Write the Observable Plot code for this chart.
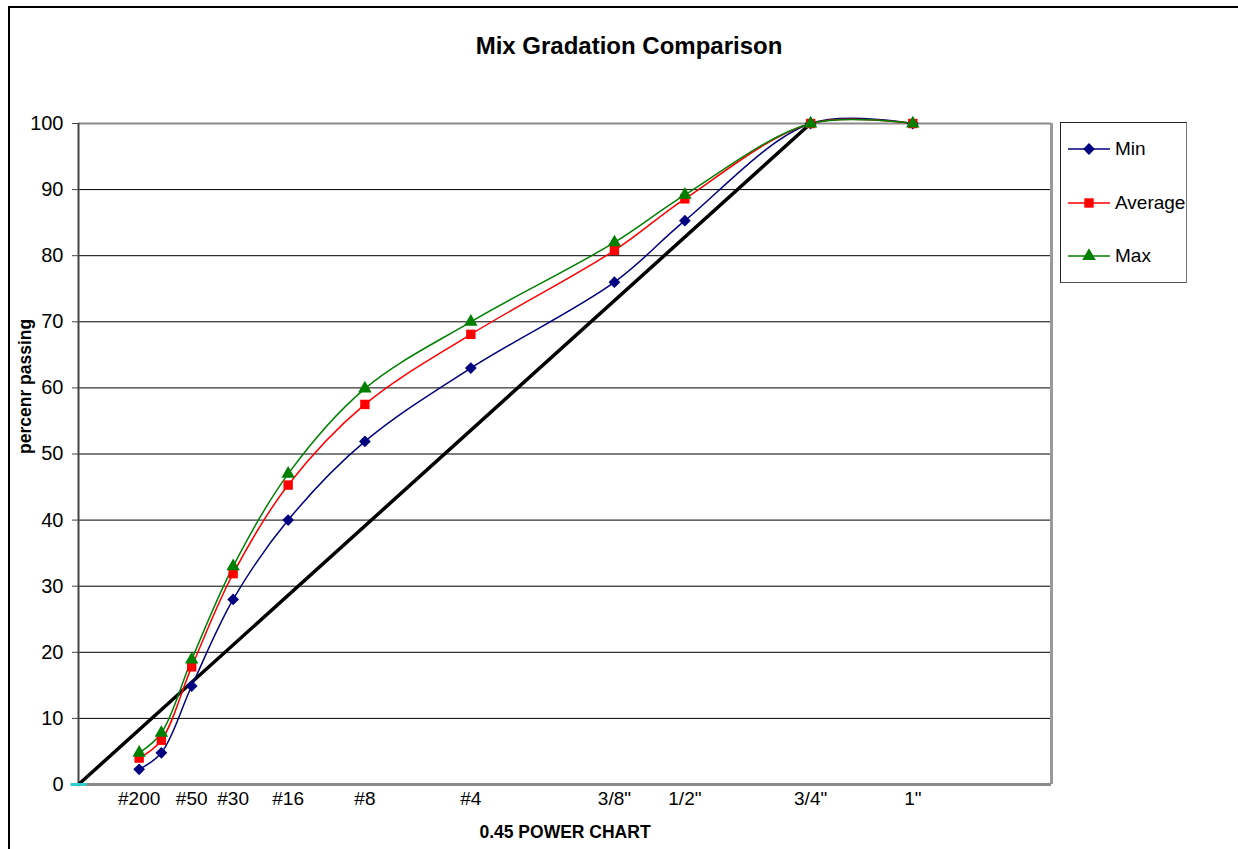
<!DOCTYPE html>
<html>
<head>
<meta charset="utf-8">
<script src="https://cdn.jsdelivr.net/npm/d3@7"></script>
<script src="https://cdn.jsdelivr.net/npm/@observablehq/plot@0.6"></script>
<style>
  html, body { margin: 0; padding: 0; background: #fff; overflow: hidden; }
  #wrap { position: relative; width: 1238px; height: 849px; font-family: "Liberation Sans", Arial, sans-serif; }
  #border { position: absolute; left: 8px; top: 6px; width: 1400px; height: 1000px; border-left: 2px solid #000; border-top: 2px solid #000; }
  #chart { position: absolute; left: 0; top: 0; }
  #legend { position: absolute; left: 1060px; top: 122px; width: 125px; height: 159px; border: 1.5px solid #222; border-right-color: #777; border-bottom-color: #555; background: #fff; }
  .lg { position: absolute; left: 6px; height: 24px; display: flex; align-items: center; font-size: 19px; color: #000; }
  .lg svg { margin-right: 4px; }
</style>
</head>
<body>
<div id="wrap">
  <div id="border"></div>
  <div id="chart"></div>
  <div id="legend"></div>
</div>
<script>
// ---- data ----
const sieveLabels = ["#200", "#100", "#50", "#30", "#16", "#8", "#4", "3/8\"", "1/2\"", "3/4\"", "1\""];
const sieveMM     = [0.075, 0.15, 0.3, 0.6, 1.18, 2.36, 4.75, 9.5, 12.5, 19, 25.4];
const minPass = [2.3, 4.8, 14.9, 28.0, 40.0, 51.9, 63.0, 76.0, 85.3, 100, 100];
const avgPass = [4.0, 6.7, 17.8, 31.9, 45.3, 57.5, 68.1, 80.8, 88.6, 100, 100];
const maxPass = [4.8, 7.8, 18.9, 33.0, 47.0, 59.9, 70.0, 82.0, 89.2, 100, 100];
const axisLabels = ["#200", "#50", "#30", "#16", "#8", "#4", "3/8\"", "1/2\"", "3/4\"", "1\""];
const maxDensityMM = [0, 19];
const maxDensityPass = [0, 100];
const originMM = [0];
const originPass = [0];
const yTicks = [0, 10, 20, 30, 40, 50, 60, 70, 80, 90, 100];
const gridLines = [10, 20, 30, 40, 50, 60, 70, 80, 90];
const xMax = 35.75;   // 0.45-power axis end (5.0 on the power scale)
const seriesNames = ["Min", "Average", "Max"];
const seriesColors = ["#000080", "#FF0000", "#008000"];
const seriesSymbols = ["diamond2", "square", "triangle"];

const seriesValues = [minPass, avgPass, maxPass];
const rows = [];
seriesNames.forEach((s, k) => sieveMM.forEach((mm, i) => rows.push({series: s, mm, pass: seriesValues[k][i], label: sieveLabels[i]})));
const lineRows = maxDensityMM.map((mm, i) => ({mm, pass: maxDensityPass[i]}));
const originRows = originMM.map((mm, i) => ({mm, pass: originPass[i]}));
const labelOf = new Map(sieveMM.map((mm, i) => [mm, sieveLabels[i]]));
const labeledMM = sieveMM.filter((mm, i) => axisLabels.includes(sieveLabels[i]));

const dash = { draw(ctx, size) { const w = Math.sqrt(size); ctx.moveTo(-w, 0); ctx.lineTo(w, 0); } };
const symR = {"diamond2": 5.3, "square": 5.3, "triangle": 5.0};

const font = "'Liberation Sans', Arial, sans-serif";
const chart = Plot.plot({
  width: 1238, height: 849,
  marginLeft: 78, marginRight: 187, marginTop: 123, marginBottom: 65,
  style: {fontFamily: font, fontSize: "20px", background: "transparent", color: "#000", overflow: "visible"},
  x: {type: "pow", exponent: 0.45, domain: [0, xMax]},
  y: {domain: [0, 100]},
  marks: [
    Plot.ruleY(gridLines, {stroke: "#000", strokeWidth: 1}),
    Plot.ruleY([100], {stroke: "#8a8a8a", strokeWidth: 2}),
    Plot.ruleX([xMax], {stroke: "#9a9a9a", strokeWidth: 3}),
    Plot.ruleY([0], {stroke: "#8a8a8a", strokeWidth: 3}),
    Plot.ruleX([0], {stroke: "#444", strokeWidth: 2}),
    Plot.axisY({ticks: yTicks, tickSize: 6, tickPadding: 9, fontSize: 20, stroke: "#444", label: null}),
    Plot.axisX({ticks: labeledMM, tickFormat: d => labelOf.get(d), tickSize: 0, tickPadding: 7, fontSize: 19, label: null}),
    Plot.line(lineRows, {x: "mm", y: "pass", stroke: "#000", strokeWidth: 3.5}),
    Plot.line(rows, {x: "mm", y: "pass", z: "series", stroke: d => seriesColors[seriesNames.indexOf(d.series)], strokeWidth: 1.5, curve: "catmull-rom"}),
    ...seriesNames.map((s, k) => Plot.dot(rows.filter(d => d.series === s), {
      x: "mm", y: "pass", symbol: () => seriesSymbols[k], fill: seriesColors[k], stroke: "none", r: symR[seriesSymbols[k]]
    })),
    Plot.dot(originRows, {x: "mm", y: "pass", symbol: () => dash, stroke: "#33CCCC", strokeWidth: 3, fill: "none", r: 4.5}),
    Plot.text(["Mix Gradation Comparison"], {frameAnchor: "top", lineAnchor: "middle", dy: -77, dx: 64, fontSize: 24, fontWeight: "bold"}),
    Plot.text(["0.45 POWER CHART"], {frameAnchor: "bottom", lineAnchor: "middle", dy: 48, dx: 0, fontSize: 17.5, fontWeight: "bold"}),
    Plot.text(["percenr passing"], {frameAnchor: "left", lineAnchor: "middle", dx: -53, dy: 0, rotate: -90, fontSize: 17.5, fontWeight: "bold"})
  ]
});
document.getElementById("chart").appendChild(chart);

// ---- legend ----
const legend = document.getElementById("legend");
const legendTops = [14, 68, 121];
seriesNames.forEach((s, k) => {
  const item = document.createElement("div");
  item.className = "lg";
  item.style.top = legendTops[k] + "px";
  const svg = d3.create("svg").attr("width", 44).attr("height", 24);
  svg.append("line").attr("x1", 1).attr("x2", 43).attr("y1", 12).attr("y2", 12).attr("stroke", seriesColors[k]).attr("stroke-width", 1.5);
  const symType = {"diamond2": d3.symbolDiamond2, "square": d3.symbolSquare, "triangle": d3.symbolTriangle}[seriesSymbols[k]];
  const r = symR[seriesSymbols[k]];
  svg.append("path").attr("transform", "translate(22,12)").attr("d", d3.symbol(symType, Math.PI * r * r)()).attr("fill", seriesColors[k]);
  item.appendChild(svg.node());
  const t = document.createElement("span");
  t.textContent = s;
  item.appendChild(t);
  legend.appendChild(item);
});
</script>
</body>
</html>
